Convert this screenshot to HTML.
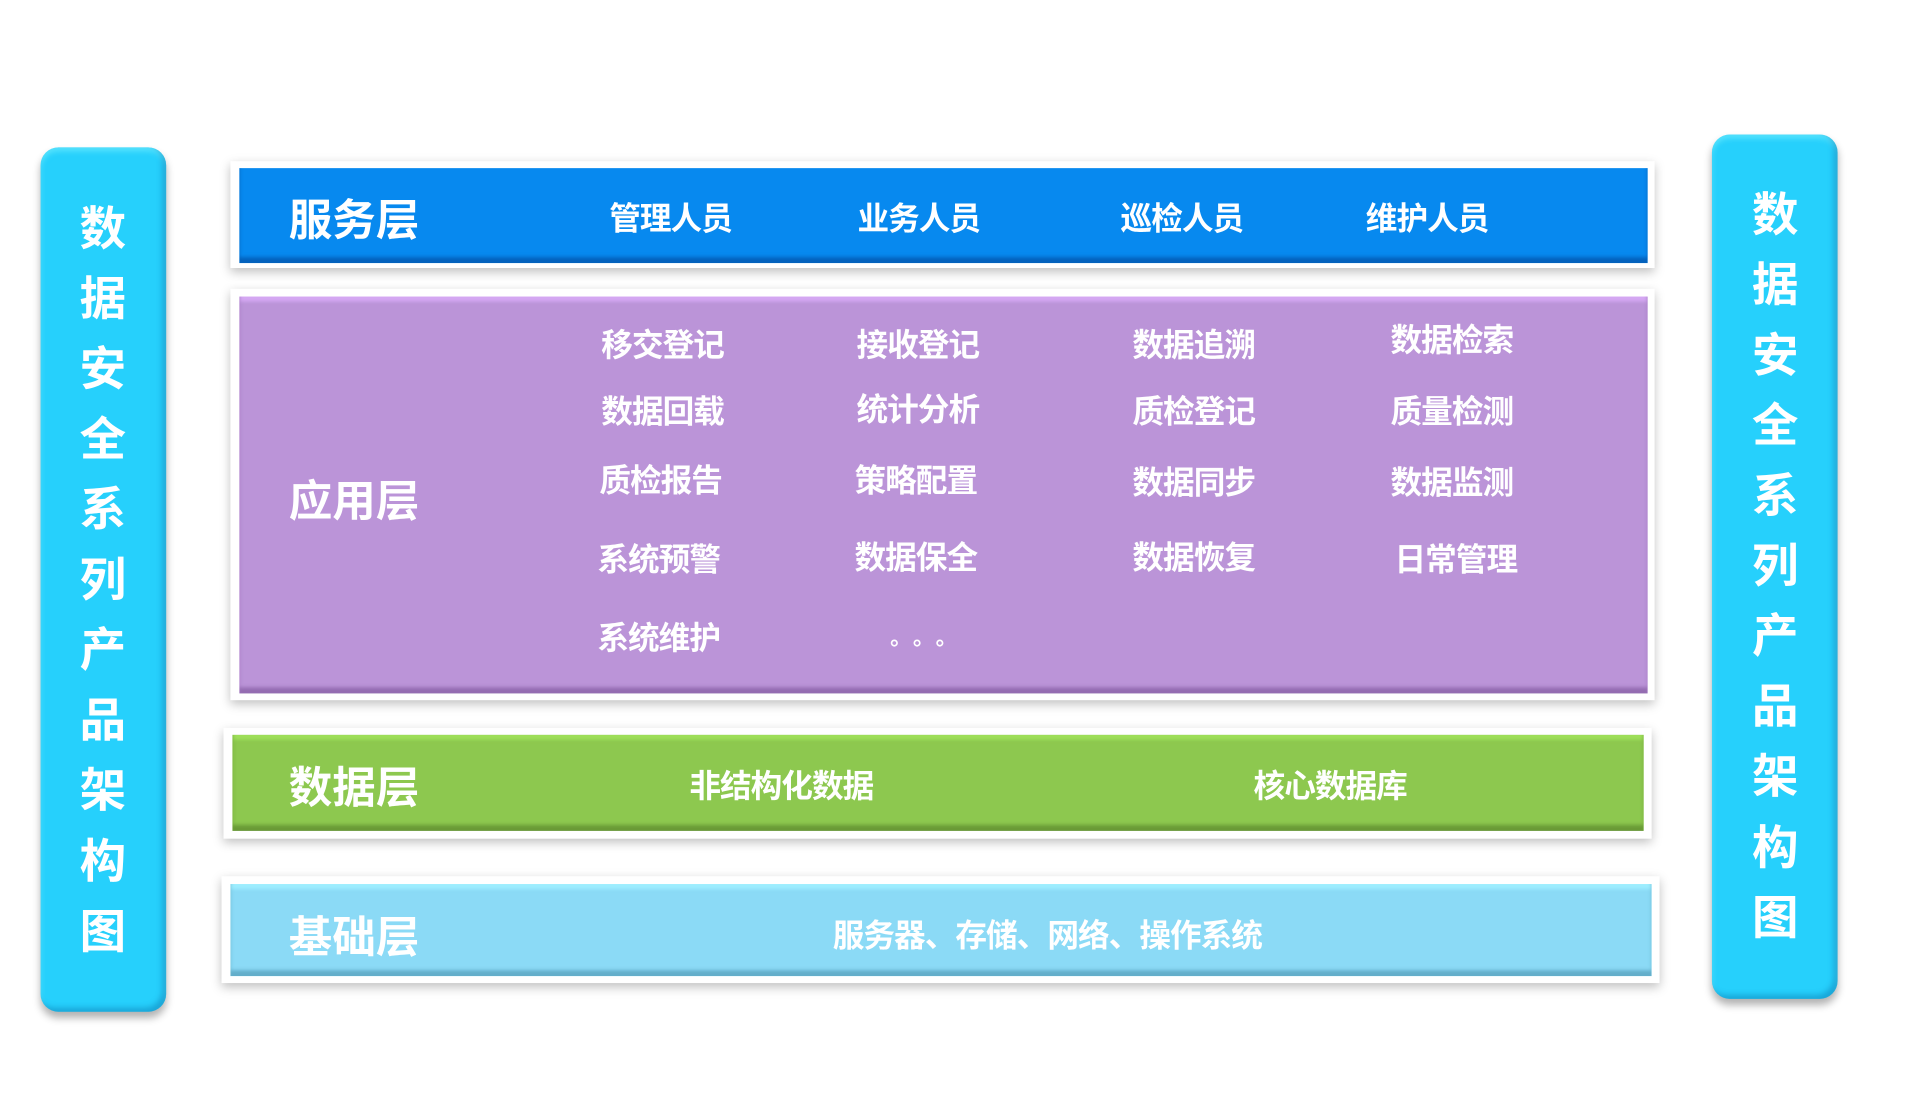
<!DOCTYPE html>
<html><head><meta charset="utf-8"><style>
html,body{margin:0;padding:0;background:#fff;}
body{width:1920px;height:1096px;position:relative;overflow:hidden;font-family:"Liberation Sans","Noto Sans CJK SC",sans-serif;font-weight:bold;color:#fff;}
#w{position:absolute;left:0;top:0;width:1920px;height:1096px;transform:scale(0.989);transform-origin:0 0;}
.frame{position:absolute;background:#fff;box-shadow:0 4px 10px rgba(0,0,0,0.25);}
.box{position:absolute;}
.t{position:absolute;transform:translate(-50%,-50%);white-space:nowrap;font-size:32px;letter-spacing:-1px;}
.lbl{position:absolute;transform:translateY(-50%);white-space:nowrap;font-size:44px;}
.bar{position:absolute;background:#26d0fc;border-radius:18px;box-shadow:0 6px 8px rgba(0,0,0,0.3), inset -4px -4px 6px rgba(0,90,150,0.35), inset 0 4px 6px rgba(120,240,255,0.6);}
.vc{position:absolute;transform:translate(-50%,-50%);font-size:47px;}
</style></head><body><div id="w">

<div class="bar" style="left:41px;top:149px;width:127px;height:874px;"></div>
<div class="bar" style="left:1731px;top:136px;width:127px;height:874px;"></div>

<div class="frame" style="left:233px;top:163px;width:1440px;height:108px;"></div>
<div class="box" style="left:242px;top:170px;width:1424px;height:96px;background:#0789ef;box-shadow:inset 0 -6px 4px rgba(0,60,140,0.5);"></div>
<div class="frame" style="left:233px;top:292px;width:1440px;height:416px;"></div>
<div class="box" style="left:242px;top:300px;width:1424px;height:401px;background:#bb94d8;box-shadow:inset 0 -6px 4px rgba(110,70,140,0.5),inset 0 5px 3px rgba(215,170,245,0.9);"></div>
<div class="frame" style="left:226px;top:736px;width:1444px;height:112px;"></div>
<div class="box" style="left:235px;top:743px;width:1427px;height:97px;background:#8dc84f;box-shadow:inset 0 -6px 4px rgba(70,110,30,0.5),inset 0 5px 3px rgba(160,225,90,0.9);"></div>
<div class="frame" style="left:224px;top:886px;width:1454px;height:108px;"></div>
<div class="box" style="left:233px;top:894px;width:1437px;height:93px;background:#8bdaf6;box-shadow:inset 0 -6px 4px rgba(60,130,160,0.5),inset 0 5px 3px rgba(160,240,255,0.9);"></div>

<div class="lbl" style="left:292px;top:219px;">服务层</div>
<div class="lbl" style="left:292px;top:503px;">应用层</div>
<div class="lbl" style="left:292px;top:793px;">数据层</div>
<div class="lbl" style="left:292px;top:944px;">基础层</div>

<div class="t" style="left:678px;top:219px;">管理人员</div>
<div class="t" style="left:929px;top:219px;">业务人员</div>
<div class="t" style="left:1195px;top:219px;">巡检人员</div>
<div class="t" style="left:1443px;top:219px;">维护人员</div>

<div class="t" style="left:670px;top:347px;">移交登记</div>
<div class="t" style="left:928px;top:347px;">接收登记</div>
<div class="t" style="left:1207px;top:347px;">数据追溯</div>
<div class="t" style="left:1468px;top:342px;">数据检索</div>
<div class="t" style="left:670px;top:414px;">数据回载</div>
<div class="t" style="left:928px;top:412px;">统计分析</div>
<div class="t" style="left:1207px;top:414px;">质检登记</div>
<div class="t" style="left:1468px;top:414px;">质量检测</div>
<div class="t" style="left:668px;top:484px;">质检报告</div>
<div class="t" style="left:926px;top:484px;">策略配置</div>
<div class="t" style="left:1207px;top:486px;">数据同步</div>
<div class="t" style="left:1468px;top:486px;">数据监测</div>
<div class="t" style="left:666px;top:564px;">系统预警</div>
<div class="t" style="left:926px;top:562px;">数据保全</div>
<div class="t" style="left:1207px;top:562px;">数据恢复</div>
<div class="t" style="left:1472px;top:564px;">日常管理</div>
<div class="t" style="left:666px;top:643px;">系统维护</div>
<div class="t" style="left:940px;top:643px;font-size:22px;letter-spacing:12px;">。。。</div>

<div class="t" style="left:790px;top:793px;">非结构化数据</div>
<div class="t" style="left:1345px;top:793px;">核心数据库</div>
<div class="t" style="left:1059px;top:944px;">服务器、存储、网络、操作系统</div>

<div class="vc" style="left:104px;top:227px;">数</div>
<div class="vc" style="left:104px;top:298px;">据</div>
<div class="vc" style="left:104px;top:369px;">安</div>
<div class="vc" style="left:104px;top:440px;">全</div>
<div class="vc" style="left:104px;top:511px;">系</div>
<div class="vc" style="left:104px;top:582px;">列</div>
<div class="vc" style="left:104px;top:653px;">产</div>
<div class="vc" style="left:104px;top:724px;">品</div>
<div class="vc" style="left:104px;top:795px;">架</div>
<div class="vc" style="left:104px;top:867px;">构</div>
<div class="vc" style="left:104px;top:938px;">图</div>

<div class="vc" style="left:1795px;top:213px;">数</div>
<div class="vc" style="left:1795px;top:284px;">据</div>
<div class="vc" style="left:1795px;top:355px;">安</div>
<div class="vc" style="left:1795px;top:426px;">全</div>
<div class="vc" style="left:1795px;top:497px;">系</div>
<div class="vc" style="left:1795px;top:568px;">列</div>
<div class="vc" style="left:1795px;top:639px;">产</div>
<div class="vc" style="left:1795px;top:710px;">品</div>
<div class="vc" style="left:1795px;top:781px;">架</div>
<div class="vc" style="left:1795px;top:853px;">构</div>
<div class="vc" style="left:1795px;top:924px;">图</div>
</div></body></html>
